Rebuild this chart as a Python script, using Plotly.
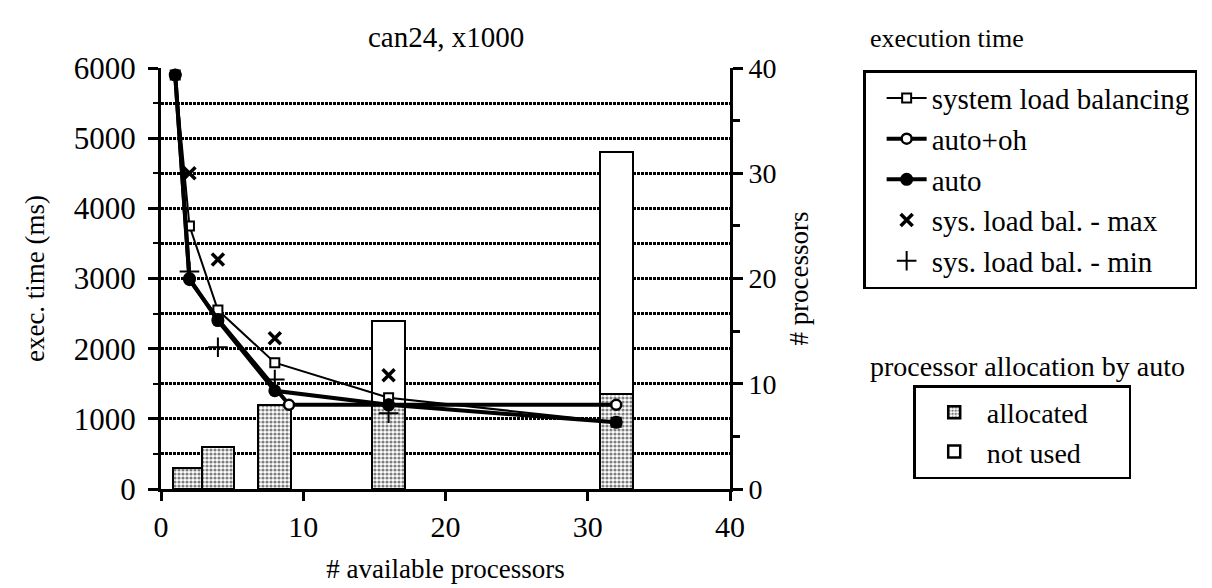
import plotly.graph_objects as go

FONT = "Liberation Serif"

# ---- data ----
avail = [1, 2, 4, 8, 16, 32]
sys_lb = [5900, 3750, 2550, 1800, 1300, 950]
auto_oh_x = [1, 2, 4, 9, 16, 32]
auto_oh = [5900, 2980, 2420, 1200, 1200, 1200]
auto = [5900, 3000, 2400, 1400, 1200, 950]
max_x = [2, 4, 8, 16]
sys_max = [4500, 3270, 2150, 1620]
min_x = [2, 4, 8, 16]
sys_min = [3100, 2020, 1560, 1080]

bar_x = [2, 4, 8, 16, 32]
allocated = [2, 4, 8, 8, 9]
total = [2, 4, 8, 16, 32]
not_used = [t - a if t - a > 0 else None for t, a in zip(total, allocated)]

PAD = "\u00a0" * 5

fig = go.Figure()

bar_line = dict(color="black", width=2.5)
fig.add_trace(go.Bar(
    x=bar_x, y=allocated, width=2.3, name="allocated" + PAD, yaxis="y",
    marker=dict(color="white", line=bar_line,
                pattern=dict(shape=".", fgcolor="black", bgcolor="white",
                             size=4, solidity=0.5)),
    legend="legend2", legendgroup="a", showlegend=True))
fig.add_trace(go.Bar(
    x=bar_x, y=not_used, width=2.3, name="not used" + PAD, yaxis="y",
    marker=dict(color="white", line=bar_line),
    legend="legend2", legendgroup="b"))

fig.add_trace(go.Scatter(
    x=avail, y=sys_lb, yaxis="y2", mode="lines+markers",
    name="system load balancing", legendgroup="1",
    line=dict(color="black", width=2),
    marker=dict(symbol="square", size=9, color="white",
                line=dict(color="black", width=2))))
fig.add_trace(go.Scatter(
    x=auto_oh_x, y=auto_oh, yaxis="y2", mode="lines+markers",
    name="auto+oh", legendgroup="2",
    line=dict(color="black", width=4),
    marker=dict(symbol="circle", size=10, color="white",
                line=dict(color="black", width=2.5))))
fig.add_trace(go.Scatter(
    x=avail, y=auto, yaxis="y2", mode="lines+markers",
    name="auto", legendgroup="3",
    line=dict(color="black", width=4),
    marker=dict(symbol="circle", size=13, color="black")))
fig.add_trace(go.Scatter(
    x=max_x, y=sys_max, yaxis="y2", mode="markers",
    name="sys. load bal. - max", legendgroup="4",
    marker=dict(symbol="x-thin", size=12,
                line=dict(color="black", width=3.5))))
fig.add_trace(go.Scatter(
    x=min_x, y=sys_min, yaxis="y2", mode="markers",
    name="sys. load bal. - min", legendgroup="5",
    marker=dict(symbol="cross-thin", size=14,
                line=dict(color="black", width=2))))

axis_common = dict(showline=True, linecolor="black", linewidth=3,
                   ticks="outside", tickcolor="black", tickwidth=3,
                   zeroline=False)

grid_dash = "3px,1px"

fig.update_layout(
    width=1212, height=588,
    margin=dict(l=153, r=490, t=60, b=107),
    paper_bgcolor="white", plot_bgcolor="white",
    font=dict(family=FONT, color="black", size=26),
    barmode="stack", bargap=0,
    showlegend=True,
    xaxis=dict(range=[0, 40], tickvals=[0, 10, 20, 30, 40], ticklen=9,
               showgrid=False,
               tickfont=dict(family=FONT, size=30, color="black"),
               title=dict(text="# available processors", standoff=18,
                          font=dict(family=FONT, size=27)),
               **axis_common),
    yaxis=dict(range=[0, 40], side="right", dtick=10, ticklen=10,
               showgrid=False,
               tickfont=dict(family=FONT, size=28, color="black"),
               minor=dict(dtick=5, ticks="outside", ticklen=7,
                          tickwidth=3, tickcolor="black", showgrid=False),
               title=dict(text="# processors", standoff=14,
                          font=dict(family=FONT, size=27)),
               **axis_common),
    yaxis2=dict(range=[0, 6000], side="left", overlaying="y", anchor="x",
                dtick=1000, ticklen=10, ticklabelstandoff=6,
                tickfont=dict(family=FONT, size=31, color="black"),
                showgrid=True, gridcolor="black", griddash=grid_dash,
                gridwidth=2.5,
                minor=dict(dtick=500, ticks="outside", ticklen=5,
                           tickwidth=2, tickcolor="black", showgrid=True,
                           gridcolor="black", griddash=grid_dash,
                           gridwidth=2.5),
                title=dict(text="exec. time (ms)", standoff=22,
                           font=dict(family=FONT, size=27)),
                **axis_common),
    legend=dict(x=1.234, y=0.995, xanchor="left", yanchor="top",
                bordercolor="black", borderwidth=2.5, bgcolor="white",
                traceorder="grouped", tracegroupgap=0,
                itemwidth=40, indentation=16,
                font=dict(family=FONT, size=29, color="black")),
    legend2=dict(x=1.322, y=0.247, xanchor="left", yanchor="top",
                 bordercolor="black", borderwidth=2.5, bgcolor="white",
                 traceorder="grouped", tracegroupgap=0,
                 itemwidth=55, indentation=6,
                 font=dict(family=FONT, size=28, color="black")),
    annotations=[
        dict(text="can24, x1000", x=0.5, y=1.0736, xref="paper",
             yref="paper", xanchor="center", yanchor="middle",
             showarrow=False, font=dict(family=FONT, size=29, color="black")),
        dict(text="execution time", x=1.2425, y=1.071, xref="paper",
             yref="paper", xanchor="left", yanchor="middle", showarrow=False,
             font=dict(family=FONT, size=26, color="black")),
        dict(text="processor allocation by auto", x=1.2425, y=0.292,
             xref="paper", yref="paper", xanchor="left", yanchor="middle",
             showarrow=False, font=dict(family=FONT, size=28, color="black")),
    ],
)

fig.write_html("out.html")
